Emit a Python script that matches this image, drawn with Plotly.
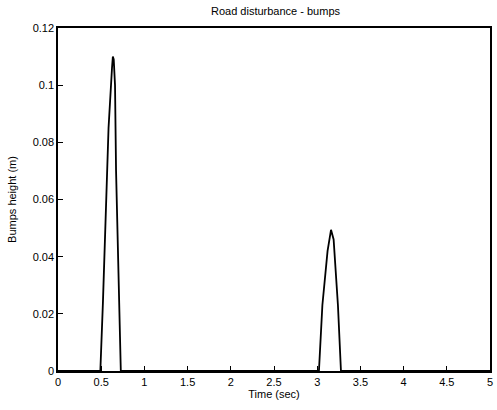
import plotly.graph_objects as go

# Road disturbance profile
time_s = [0, 0.49, 0.52, 0.55, 0.585, 0.625, 0.635, 0.645, 0.66, 0.672, 0.70, 0.727,
          3.02, 3.06, 3.12, 3.16, 3.19, 3.24, 3.275, 5]
bump_m = [0, 0, 0.024, 0.055, 0.085, 0.106, 0.110, 0.109, 0.100, 0.070, 0.030, 0,
          0, 0.023, 0.042, 0.0494, 0.046, 0.023, 0, 0]

x_ticks = [0, 0.5, 1, 1.5, 2, 2.5, 3, 3.5, 4, 4.5, 5]
x_tick_text = ["0", "0.5", "1", "1.5", "2", "2.5", "3", "3.5", "4", "4.5", "5"]
y_ticks = [0, 0.02, 0.04, 0.06, 0.08, 0.1, 0.12]
y_tick_text = ["0", "0.02", "0.04", "0.06", "0.08", "0.1", "0.12"]

FONT = "Liberation Sans, Arial, sans-serif"

fig = go.Figure()
fig.add_trace(go.Scatter(x=time_s, y=bump_m, mode="lines",
                         line=dict(color="black", width=1.8), showlegend=False))

axis_common = dict(showline=True, mirror=True, linecolor="black", linewidth=1.5,
                   ticks="inside", ticklen=5, tickwidth=1.2, tickcolor="black",
                   showgrid=False, zeroline=False,
                   tickfont=dict(family=FONT, size=11, color="black"))

fig.update_layout(
    width=497, height=410,
    margin=dict(l=58, r=4, t=28, b=39),
    paper_bgcolor="white", plot_bgcolor="white",
    font=dict(family=FONT, color="black"),
    title=dict(text="Road disturbance - bumps", x=(58 + 493) / 2 / 497, xanchor="center",
               yref="container", y=1 - 11 / 410, yanchor="middle",
               font=dict(family=FONT, size=11, color="black")),
    xaxis=dict(range=[0, 5], tickvals=x_ticks, ticktext=x_tick_text,
               title=dict(text="Time (sec)", standoff=3,
                          font=dict(family=FONT, size=11, color="black")),
               **axis_common),
    yaxis=dict(range=[0, 0.12], tickvals=y_ticks, ticktext=y_tick_text,
               title=dict(text="Bumps height (m)", standoff=14,
                          font=dict(family=FONT, size=11, color="black")),
               **axis_common),
)

fig.write_html("out.html")
